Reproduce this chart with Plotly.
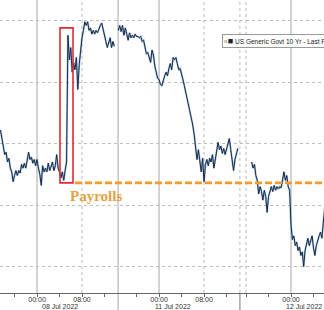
import pandas as pd
import plotly.graph_objects as go

# ---- data: US Generic Govt 10Y yield (%), 15-minute samples ----
seg1_start = "2022-07-07 17:30"   # Jul 7 evening -> Jul 8 (payrolls day)
seg1_vals = [
    3.011, 3.003, 2.995, 2.991, 2.993, 2.985, 2.988, 2.980, 2.977, 2.969,
    2.974, 2.978, 2.974, 2.978, 2.976, 2.983, 2.980, 2.984, 2.980, 2.988,
    2.993, 2.987, 2.989, 2.984, 2.987, 2.982, 2.987, 2.980, 2.975, 2.966,
    2.982, 2.977, 2.980, 2.977, 2.984, 2.978, 2.982, 2.985, 2.978, 2.982,
    2.991, 2.980, 2.977, 2.972, 2.977, 2.970, 2.978, 2.985,
    3.088, 3.068, 3.078, 3.058, 3.066, 3.060, 3.070, 3.044, 3.064, 3.078,
    3.086, 3.092, 3.099, 3.096, 3.099, 3.092, 3.094, 3.089, 3.092, 3.089,
    3.092, 3.090, 3.094, 3.096, 3.098, 3.092, 3.087, 3.083, 3.078, 3.083,
    3.086, 3.078, 3.083, 3.079,
]
seg2_start = "2022-07-10 16:45"   # Sunday evening open -> Jul 11
seg2_vals = [
    3.092, 3.096, 3.091, 3.096, 3.088, 3.094, 3.089, 3.084, 3.090, 3.086,
    3.088, 3.086, 3.089, 3.087, 3.087, 3.086, 3.087, 3.083, 3.084, 3.078,
    3.073, 3.074, 3.070, 3.066, 3.076, 3.072, 3.063, 3.058, 3.053, 3.052,
    3.048, 3.047, 3.052, 3.055, 3.058, 3.055, 3.061, 3.065, 3.060, 3.070,
    3.068, 3.070, 3.065, 3.060, 3.061, 3.055, 3.052, 3.047, 3.042, 3.035,
    3.031, 3.026, 3.021, 3.015, 3.007, 2.999, 2.987, 2.995, 2.983, 2.977,
    2.988, 2.969, 2.983, 2.987, 2.982, 2.988, 2.985, 2.991, 2.980, 2.988,
    2.995, 3.001, 2.995, 2.998, 2.992, 2.996, 2.991, 2.995, 2.998, 3.004,
    2.995, 2.988, 2.978, 2.987, 2.991, 2.996,
]
seg3_start = "2022-07-11 17:00"   # Jul 11 evening -> Jul 12
seg3_vals = [
    2.985, 2.980, 2.983, 2.974, 2.970, 2.959, 2.965, 2.961, 2.954, 2.962,
    2.957, 2.944, 2.957, 2.961, 2.965, 2.961, 2.966, 2.962, 2.965, 2.963,
    2.965, 2.964, 2.972, 2.977, 2.970, 2.974, 2.965, 2.962, 2.934, 2.922,
    2.925, 2.917, 2.920, 2.913, 2.916, 2.909, 2.912, 2.900, 2.913, 2.918,
    2.923, 2.917, 2.922, 2.925, 2.915, 2.909, 2.917, 2.922, 2.925, 2.928,
    2.923, 2.936, 2.948,
]
gap_times = ["2022-07-08 14:00", "2022-07-11 14:15"]

payrolls_level = 2.968
y_grid = [2.90, 2.95, 3.00, 3.05, 3.10]
x_range = ["2022-07-07 17:25", "2022-07-12 05:52"]

label_ticks = ["2022-07-08 00:00", "2022-07-08 08:00", "2022-07-11 00:00",
               "2022-07-11 08:00", "2022-07-12 00:00"]
all_ticks = ["2022-07-07 20:00", "2022-07-08 00:00", "2022-07-08 04:00",
             "2022-07-08 08:00", "2022-07-08 12:00", "2022-07-10 20:00",
             "2022-07-11 00:00", "2022-07-11 04:00", "2022-07-11 08:00",
             "2022-07-11 12:00", "2022-07-11 16:00", "2022-07-11 20:00",
             "2022-07-12 00:00", "2022-07-12 04:00"]
date_labels = ["08 Jul 2022", "11 Jul 2022", "12 Jul 2022"]
date_label_x = ["2022-07-08 00:32", "2022-07-10 22:56", "2022-07-11 22:45"]

day_lines = ["2022-07-08 00:00", "2022-07-11 00:00", "2022-07-12 00:00"]
dot_lines = ["2022-07-08 08:00", "2022-07-11 08:00", "2022-07-11 16:00"]
session_lines = ["2022-07-10 16:43", "2022-07-11 14:23"]

# ---- build series ----
def times(start, n):
    return list(pd.date_range(start, periods=n, freq="15min").strftime("%Y-%m-%d %H:%M"))

xs = (times(seg1_start, len(seg1_vals)) + [gap_times[0]] +
      times(seg2_start, len(seg2_vals)) + [gap_times[1]] +
      times(seg3_start, len(seg3_vals)))
ys = seg1_vals + [None] + seg2_vals + [None] + seg3_vals

fig = go.Figure()
fig.add_trace(go.Scatter(x=xs, y=ys, mode="lines", connectgaps=False,
                         line=dict(color="#6f9fd4", width=2.0), opacity=0.6,
                         hoverinfo="skip", showlegend=False))
fig.add_trace(go.Scatter(x=xs, y=ys, mode="lines", connectgaps=False,
                         line=dict(color="#1a2b44", width=1.0),
                         name="US Generic Govt 10 Yr - Last Price", showlegend=False))

shapes = []
for t in day_lines:
    shapes.append(dict(type="line", xref="x", yref="paper", x0=t, x1=t, y0=0, y1=1,
                       line=dict(color="#a8a8a8", width=1), layer="below"))
for t in dot_lines:
    shapes.append(dict(type="line", xref="x", yref="paper", x0=t, x1=t, y0=0, y1=1,
                       line=dict(color="#b8b8b8", width=1, dash="dot"), layer="below"))
shapes.append(dict(type="line", xref="x", yref="paper", x0=session_lines[0], x1=session_lines[0],
                   y0=-0.06, y1=1, line=dict(color="#a8a8a8", width=1), layer="below"))
shapes.append(dict(type="line", xref="x", yref="paper", x0=session_lines[1], x1=session_lines[1],
                   y0=0, y1=1, line=dict(color="#b8b8b8", width=1, dash="dot"), layer="below"))
shapes.append(dict(type="line", xref="x", yref="paper", x0=session_lines[1], x1=session_lines[1],
                   y0=-0.06, y1=0, line=dict(color="#777777", width=1), layer="below"))
# payrolls dashed level
shapes.append(dict(type="line", xref="x", yref="y", x0="2022-07-08 06:45", x1="2022-07-12 06:00",
                   y0=payrolls_level, y1=payrolls_level,
                   line=dict(color="#F39C2B", width=2.6, dash="7px,3px")))
# red highlight box
shapes.append(dict(type="rect", xref="x", yref="y", x0="2022-07-08 04:05", x1="2022-07-08 06:24",
                   y0=payrolls_level, y1=3.094, line=dict(color="#E02A36", width=1.6)))

annotations = []
for lbl, t in zip(date_labels, date_label_x):
    annotations.append(dict(text=lbl, x=t, xref="x", y=-0.046, yref="paper",
                            xanchor="left", yanchor="middle", showarrow=False,
                            font=dict(family="Liberation Sans", size=7, color="#333333")))
annotations.append(dict(text="<b>Payrolls</b>", x="2022-07-08 05:30", xref="x", y=2.9573, yref="y",
                        xanchor="left", yanchor="middle", showarrow=False,
                        font=dict(family="Liberation Serif", size=15, color="#E5A040")))
annotations.append(dict(text="<span style='color:#9a9a9a'>≡</span><span style='font-size:9px'>■</span> US Generic Govt 10 Yr - Last Price",
                        x=222/324, xref="paper", y=0.86, yref="paper",
                        xanchor="left", yanchor="middle", showarrow=False, align="left",
                        bgcolor="white", bordercolor="#999999", borderwidth=1, borderpad=1,
                        font=dict(family="Liberation Sans", size=6.5, color="#222222")))

tick_text = [("00:00" if t.endswith("00:00") else "08:00") if t in label_ticks else "" for t in all_ticks]

fig.update_layout(
    width=324, height=310, autosize=False,
    margin=dict(l=0, r=0, t=0, b=17, pad=0),
    paper_bgcolor="white", plot_bgcolor="white",
    shapes=shapes, annotations=annotations,
    xaxis=dict(type="date", range=x_range,
               rangebreaks=[dict(values=["2022-07-08 14:24:00"], dvalue=181080000),
                            dict(values=["2022-07-11 14:24:00"], dvalue=1920000)],
               showgrid=False, zeroline=False, showline=True, linecolor="#666666", linewidth=1,
               ticks="outside", ticklen=3, tickcolor="#666666",
               tickvals=all_ticks, ticktext=tick_text, ticklabelstandoff=-3,
               tickfont=dict(family="Liberation Sans", size=7, color="#333333"),
               fixedrange=True),
    yaxis=dict(range=[2.8785, 3.1167], tickvals=y_grid, showticklabels=False,
               showgrid=True, gridcolor="#bdbdbd", gridwidth=1, griddash="dot",
               zeroline=False, showline=False, ticks="", fixedrange=True),
)
fig.write_html("out.html")
